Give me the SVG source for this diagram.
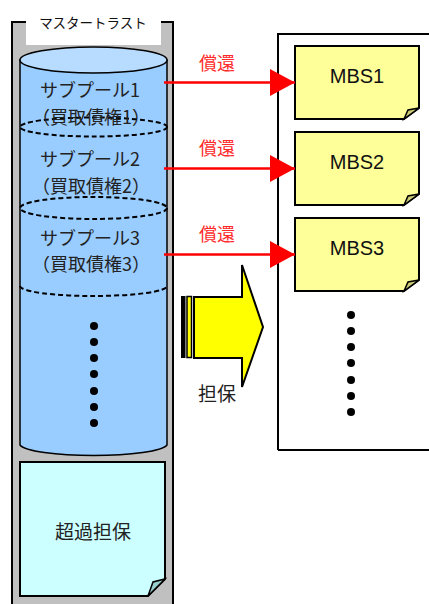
<svg xmlns="http://www.w3.org/2000/svg" width="429" height="604" viewBox="0 0 429 604">
<style>
.jp{font-family:"Noto Sans CJK JP","Noto Sans",sans-serif;}
.lbl{font-size:18px;fill:#222;text-anchor:middle;dominant-baseline:central;}
.big{font-size:19px;}
.red{font-size:18px;fill:#ff2a2a;text-anchor:middle;dominant-baseline:central;}
.mbs{font-family:"Liberation Sans",Arial,sans-serif;font-size:20px;fill:#111;text-anchor:middle;dominant-baseline:central;}
.dash{fill:none;stroke:#000;stroke-width:2;stroke-dasharray:5 3;}
.note{fill:#ffff99;stroke:#000;stroke-width:2;}
.fold{fill:#cccc77;stroke:#000;stroke-width:1.5;}
.dot{fill:#000;}
</style>
<defs>
<marker id="ah" markerWidth="25" markerHeight="27" refX="25" refY="13.5" orient="auto" markerUnits="userSpaceOnUse">
<polygon points="0,0 25,13.5 0,27" fill="#ff0000"/>
</marker>
</defs>
<rect width="429" height="604" fill="#fff"/>

<g id="master-trust">
<rect x="12" y="22" width="161" height="600" fill="#c0c0c0" stroke="#000" stroke-width="2"/>
<rect x="26" y="8" width="135" height="37" fill="#fff"/>
<text class="jp" x="93" y="22" font-size="13.5" fill="#111" text-anchor="middle" dominant-baseline="central">マスタートラスト</text>
</g>

<g id="cylinder">
<path d="M20,60 L20,445 A74,12 0 0 0 167,445 L167,60 Z" fill="#99ccff" stroke="#000" stroke-width="1.5"/>
<ellipse cx="93.5" cy="60" rx="73.5" ry="13" fill="#b8dcff" stroke="#000" stroke-width="1.5"/>
<ellipse class="dash" cx="93.5" cy="127" rx="73.5" ry="9.5"/>
<ellipse class="dash" cx="93.5" cy="208" rx="73.5" ry="11"/>
<path class="dash" d="M20,286 A73.5,10 0 0 0 167,286"/>
</g>

<g id="subpool1">
<text class="jp lbl" x="90" y="89">サブプール1</text>
<text class="jp lbl" x="91" y="116">（買取債権1）</text>
</g>
<g id="subpool2">
<text class="jp lbl" x="90" y="158">サブプール2</text>
<text class="jp lbl" x="91" y="185">（買取債権2）</text>
</g>
<g id="subpool3">
<text class="jp lbl" x="90" y="237">サブプール3</text>
<text class="jp lbl" x="91" y="263">（買取債権3）</text>
</g>
<g id="pool-dots">
<circle class="dot" cx="94" cy="326" r="4"/>
<circle class="dot" cx="94" cy="342" r="4"/>
<circle class="dot" cx="94" cy="358" r="4"/>
<circle class="dot" cx="94" cy="374" r="4"/>
<circle class="dot" cx="94" cy="391" r="4"/>
<circle class="dot" cx="94" cy="407" r="4"/>
<circle class="dot" cx="94" cy="423" r="4"/>
</g>

<g id="overcollateral">
<path d="M20,462 L165,462 L165,579 L148,596 L20,596 Z" fill="#ccffff" stroke="#000" stroke-width="2"/>
<path d="M148,596 L153,582 L165,579 Z" fill="#99cccc" stroke="#000" stroke-width="1.5"/>
<text class="jp lbl big" x="93" y="530">超過担保</text>
</g>

<g id="mbs-container">
<path d="M278,450 L278,34 L432,34 M278,450 L432,450" fill="#fff" stroke="#000" stroke-width="2"/>
</g>

<g id="mbs1">
<path class="note" d="M295,46 L419,46 L419,108 L404,119 L295,119 Z"/>
<path class="fold" d="M404,119 L408,110 L419,108 Z"/>
<text class="mbs" x="357" y="76">MBS1</text>
</g>
<g id="mbs2">
<path class="note" d="M295,132 L419,132 L419,194 L404,205 L295,205 Z"/>
<path class="fold" d="M404,205 L408,196 L419,194 Z"/>
<text class="mbs" x="357" y="162">MBS2</text>
</g>
<g id="mbs3">
<path class="note" d="M295,218 L419,218 L419,280 L404,291 L295,291 Z"/>
<path class="fold" d="M404,291 L408,282 L419,280 Z"/>
<text class="mbs" x="357" y="248">MBS3</text>
</g>
<g id="mbs-dots">
<circle class="dot" cx="351" cy="315" r="4"/>
<circle class="dot" cx="351" cy="331" r="4"/>
<circle class="dot" cx="351" cy="347" r="4"/>
<circle class="dot" cx="351" cy="363" r="4"/>
<circle class="dot" cx="351" cy="380" r="4"/>
<circle class="dot" cx="351" cy="396" r="4"/>
<circle class="dot" cx="351" cy="412" r="4"/>
</g>

<g id="connectors">
<line x1="164" y1="82.5" x2="295" y2="82.5" stroke="#ff0000" stroke-width="2.5" marker-end="url(#ah)"/>
<line x1="164" y1="168.5" x2="295" y2="168.5" stroke="#ff0000" stroke-width="2.5" marker-end="url(#ah)"/>
<line x1="164" y1="254.5" x2="295" y2="254.5" stroke="#ff0000" stroke-width="2.5" marker-end="url(#ah)"/>
<text class="jp red" x="217" y="62">償還</text>
<text class="jp red" x="217" y="147">償還</text>
<text class="jp red" x="217" y="233">償還</text>
</g>

<g id="collateral-arrow">
<rect x="181" y="296" width="4.5" height="62" fill="#000"/>
<rect x="187" y="296.5" width="4.5" height="61" fill="#ffff00" stroke="#000" stroke-width="1.5"/>
<path d="M194,297 L242,297 L242,265 L263,327 L242,387 L242,358 L194,358 Z" fill="#ffff00" stroke="#000" stroke-width="2"/>
<text class="jp lbl big" x="217" y="392">担保</text>
</g>
</svg>
